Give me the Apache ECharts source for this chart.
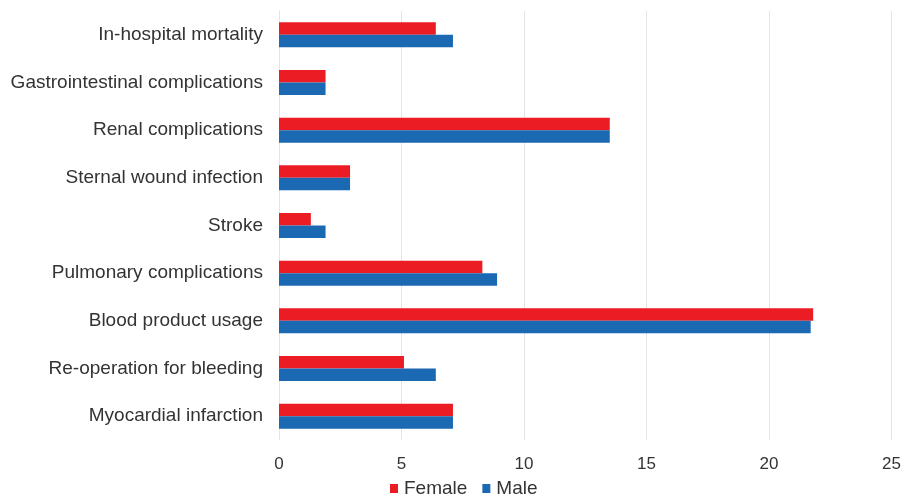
<!DOCTYPE html>
<html>
<head>
<meta charset="utf-8">
<script src="https://cdn.jsdelivr.net/npm/echarts@6/dist/echarts.min.js"></script>
<style>
  html, body { margin: 0; padding: 0; background: #ffffff; }
  #chart { width: 904px; height: 500px; }
</style>
</head>
<body>
<div id="chart"></div>
<script>
// Complication categories, listed top to bottom
const categories = [
  'In-hospital mortality',
  'Gastrointestinal complications',
  'Renal complications',
  'Sternal wound infection',
  'Stroke',
  'Pulmonary complications',
  'Blood product usage',
  'Re-operation for bleeding',
  'Myocardial infarction'
];
const femaleValues = [6.4, 1.9, 13.5, 2.9, 1.3, 8.3, 21.8, 5.1, 7.1];
const maleValues   = [7.1, 1.9, 13.5, 2.9, 1.9, 8.9, 21.7, 6.4, 7.1];
const seriesNames = ['Female', 'Male'];
const xTicks = { min: 0, max: 25, interval: 5 };

const chart = echarts.init(document.getElementById('chart'), null, { renderer: 'canvas' });
const labelFont = 'Liberation Sans, Arial, sans-serif';

chart.setOption({
  animation: false,
  backgroundColor: '#ffffff',
  grid: { left: 279, right: 11, top: 11, bottom: 60, containLabel: false },
  legend: {
    data: seriesNames,
    left: 385,
    top: 479,
    padding: [0, 5, 0, 5],
    icon: 'rect',
    itemWidth: 8,
    itemHeight: 9,
    itemGap: 15,
    textStyle: { fontFamily: labelFont, fontSize: 19, color: '#333333', padding: [0, 0, 0, 1] }
  },
  xAxis: {
    type: 'value',
    min: xTicks.min,
    max: xTicks.max,
    interval: xTicks.interval,
    axisLine: { show: false },
    axisTick: { show: false },
    splitLine: { show: true, lineStyle: { color: '#e4e4e4', width: 1 } },
    axisLabel: { fontFamily: labelFont, fontSize: 17, color: '#333333', margin: 16 }
  },
  yAxis: {
    type: 'category',
    data: categories,
    inverse: true,
    axisLine: { show: true, lineStyle: { color: '#e4e4e4' } },
    axisTick: { show: false },
    axisLabel: { fontFamily: labelFont, fontSize: 19, color: '#333333', margin: 16 }
  },
  series: [
    {
      name: seriesNames[0],
      type: 'bar',
      data: femaleValues,
      itemStyle: { color: '#ec1c24' },
      barWidth: 12.5,
      barGap: '0%'
    },
    {
      name: seriesNames[1],
      type: 'bar',
      data: maleValues,
      itemStyle: { color: '#1c69b3' },
      barWidth: 12.5,
      barGap: '0%'
    }
  ]
});
</script>
</body>
</html>
